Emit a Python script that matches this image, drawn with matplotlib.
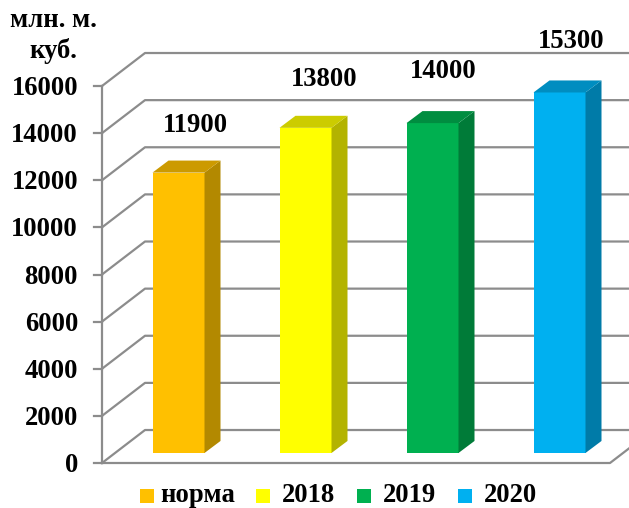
import numpy as np
import matplotlib
matplotlib.use('Agg')
import matplotlib.pyplot as plt
from matplotlib.patches import Rectangle

# donnees
categories = ['норма', '2018', '2019', '2020']
values = [11900, 13800, 14000, 15300]
ticks = [0, 2000, 4000, 6000, 8000, 10000, 12000, 14000, 16000]
colors = ['#FFC000', '#FFFF00', '#00B050', '#00B0F0']
side_colors = ['#B38900', '#B3B300', '#007B38', '#007BA8']
top_colors = ['#CC9A00', '#CCCC00', '#008D40', '#008DC0']

W, H = 629, 508
plt.rcParams['font.family'] = ['Liberation Serif', 'DejaVu Serif']
plt.rcParams['font.weight'] = 'bold'

fig = plt.figure(figsize=(W/100, H/100), dpi=100)
ax = fig.add_axes([102/W, 1-463/H, (610-102)/W, (463-86)/H])
ax.set_xlim(-0.5, 3.5)
ax.set_ylim(0, 16000)
ax.axis('off')

# profondeur du mur et des barres (unites des donnees)
wall_dx = 43/127
wall_dy = 1400
bar_dx = 16/127
bar_dy = 510
shift_x = 13/127
shift_y = 425
width = 52/127
grid = '#8C8C8C'
fs = 19.2

# grille
for t in ticks:
    ax.plot([-0.5, -0.5+wall_dx, 3.5+wall_dx], [t, t+wall_dy, t+wall_dy],
            color=grid, lw=1.6, clip_on=False, zorder=1)
    ax.plot([-0.5-8/127, -0.5], [t, t], color=grid, lw=1.6, clip_on=False, zorder=1)
ax.plot([-0.5, -0.5], [0, 16000], color=grid, lw=1.6, clip_on=False, zorder=1)
ax.plot([-0.5, 3.5, 3.5+wall_dx], [0, 0, wall_dy], color=grid, lw=1.6, clip_on=False, zorder=1)

# barres
x = np.arange(len(values)) + shift_x
ax.bar(x, values, width=width, bottom=shift_y, color=colors, zorder=3, clip_on=False)

# decalage des etiquettes en pixels
label_dx = [17, 19, 11, 12]
label_dy = [38, 39, 43, 42]
for i in range(len(values)):
    x0 = x[i] - width/2
    x1 = x[i] + width/2
    y0 = shift_y
    y1 = shift_y + values[i]
    ax.fill([x1, x1+bar_dx, x1+bar_dx, x1], [y0, y0+bar_dy, y1+bar_dy, y1],
            color=side_colors[i], lw=0, zorder=3, clip_on=False)
    ax.fill([x0, x0+bar_dx, x1+bar_dx, x1], [y1, y1+bar_dy, y1+bar_dy, y1],
            color=top_colors[i], lw=0, zorder=3, clip_on=False)
    ax.annotate(str(values[i]), (x[i], y1+bar_dy), xytext=(label_dx[i]*0.72, label_dy[i]*0.72),
                textcoords='offset points', ha='center', va='center_baseline',
                fontsize=fs, fontweight='bold', zorder=4, annotation_clip=False)

# graduations
for t in ticks:
    ax.annotate(str(t), (-0.5, t), xytext=(-24*0.72, 0.5*0.72), textcoords='offset points',
                ha='right', va='center_baseline', fontsize=fs, fontweight='bold', annotation_clip=False)

# titre de l'axe
fig.text(53/W, 1-27/H, 'млн. м.', ha='center', va='baseline', fontsize=fs, fontweight='bold')
fig.text(53/W, 1-58/H, 'куб.', ha='center', va='baseline', fontsize=fs, fontweight='bold')

# legende
legend_sq_x = [140, 256, 357, 458]
legend_txt_x = [160, 282, 383, 484]
for i in range(len(categories)):
    fig.patches.append(Rectangle((legend_sq_x[i]/W, 1-503/H), 14/W, 14/H, transform=fig.transFigure,
                                 facecolor=colors[i], lw=0, figure=fig))
    fig.text(legend_txt_x[i]/W, 1-502/H, categories[i], ha='left', va='baseline',
             fontsize=fs, fontweight='bold')

fig.savefig('out.png', dpi=100)
